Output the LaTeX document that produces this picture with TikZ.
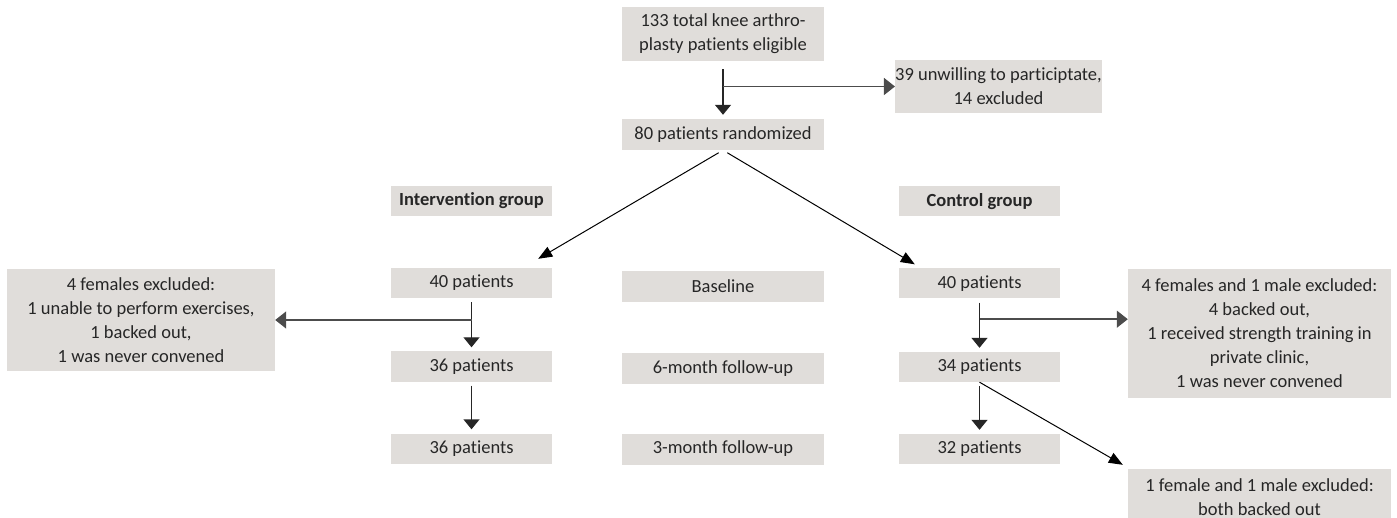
\documentclass[tikz,border=0pt]{standalone}
\usepackage{fontspec}
\setmainfont{Carlito}[Ligatures=NoCommon]
\usepackage{xcolor}
\usetikzlibrary{arrows.meta}

\definecolor{boxgray}{RGB}{224,221,218}
\definecolor{txtgray}{RGB}{38,38,38}

\begin{document}
\begin{tikzpicture}[x=1pt,y=1pt,node distance=82pt,
    main node/.style={fill=boxgray,text=txtgray,inner sep=0pt,align=center,font=\fontsize{18.5}{24}\selectfont},
    col node/.style={main node,minimum width=161pt,minimum height=30pt},
    mid node/.style={main node,minimum width=202pt,minimum height=31pt},
    excl node/.style={main node,minimum width=263pt}]
\useasboundingbox (0,0) rectangle (1397,-518);

            \node[mid node, minimum height=54pt] (1) at (723,-34) {133 total knee arthro-\\plasty patients eligible};
            \node[mid node] (2) [below of = 1, node distance = 100.5pt] {80 patients randomized};
            \node[mid node, minimum width=201pt, minimum height=53pt] (3) at (998.5,-86.5) {39 unwilling to participtate,\\14 excluded};

            \node[col node, font=\fontsize{18.5}{24}\selectfont\bfseries] (4) at (471.5,-201) {Intervention group};
            \node[col node, font=\fontsize{18.5}{24}\selectfont\bfseries] (5) at (979.5,-201.5) {Control group};

            \node[col node] (6) [below of = 4] {40 patients};
            \node[mid node] (7) at (723,-286.5) {Baseline};
            \node[col node] (8) [below of = 5] {40 patients};

            \node[col node] (11) [below of = 6, yshift = -1.5pt] {36 patients};
            \node[mid node] (12) [below of = 7] {6-month follow-up};
            \node[col node] (13) [below of = 8, yshift = -1.5pt] {34 patients};

            \node[col node] (14) [below of = 11] {36 patients};
            \node[mid node] (15) [below of = 12, yshift = 1.5pt] {3-month follow-up};
            \node[col node] (16) [below of = 13] {32 patients};

            \node[main node, minimum width=268pt, minimum height=102pt] (9) at (141,-320) {4 females excluded:\\1 unable to perform exercises,\\1 backed out,\\1 was never convened};
            \node[excl node, minimum height=129pt] (10) at (1259.5,-333.5) {4 females and 1 male excluded:\\4 backed out,\\1 received strength training in\\private clinic,\\1 was never convened};
            \node[excl node, minimum height=56pt] (17) at (1259.5,-497) {1 female and 1 male excluded:\\both backed out};

            \coordinate (b2) at ([yshift=-20.5pt]8.south);

            % straight down
            \path[-{Triangle[length=10pt,width=16pt]},line width=1.4pt,color=black!85,shorten <=4pt,shorten >=4pt]
                (1) edge[shorten <=8pt] (2)
                (6) edge (11)
                (11) edge (14)
                (8) edge (13)
                (13) edge (16)
                ;
            % exclusions
            \path[-{Triangle[length=11pt,width=17pt]},line width=1.4pt,color=black!70]
                (1.south |- 3.west) edge (3)
                (6.south |- 9.east) edge (9)
                (b2) edge (b2 -| 10.west)
                ;
            \path[-{Triangle[length=14pt,width=11pt]},line width=1pt,color=black]
                (2.south) edge[shorten <=5pt] ([xshift=-14pt,yshift=9pt]6.north east)
                (2.south) edge[shorten <=5pt] ([xshift=16pt,yshift=4pt]8.north west)
                (13.south) edge ([xshift=-5pt,yshift=4pt]17.north west)
                ;
        \end{tikzpicture}
\end{document}
